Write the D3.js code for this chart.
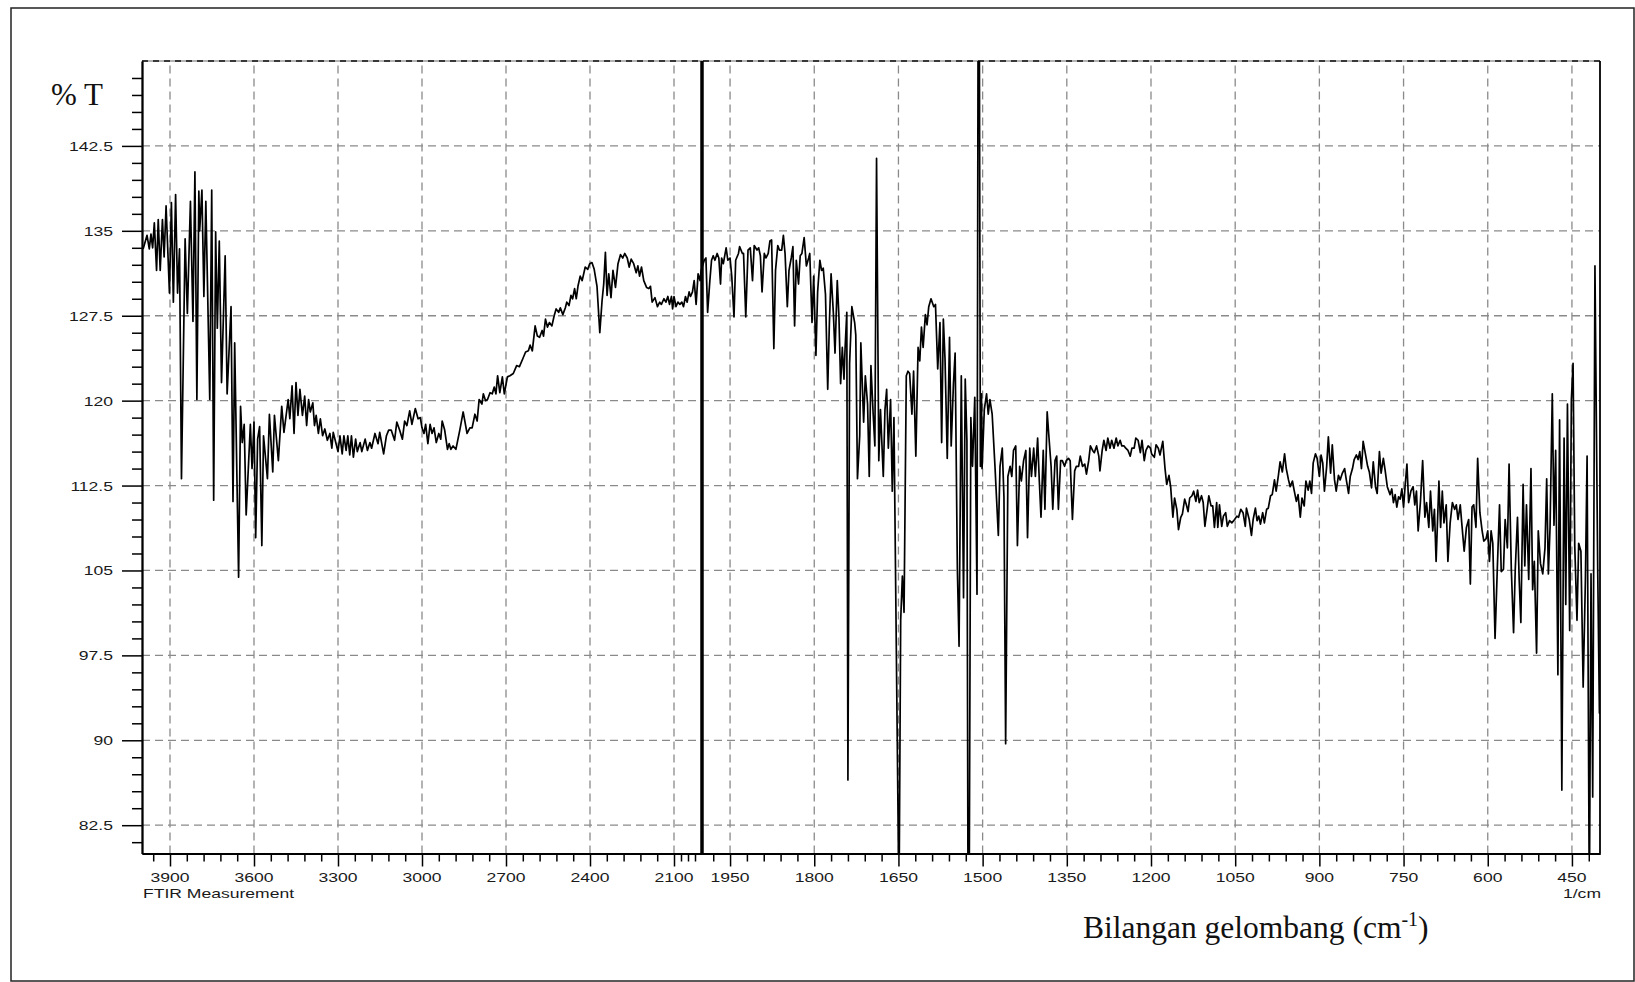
<!DOCTYPE html>
<html>
<head>
<meta charset="utf-8">
<script src="https://cdn.jsdelivr.net/npm/d3@7"></script>
<style>
  html, body { margin: 0; padding: 0; background: #fff; }
  svg { display: block; }
</style>
</head>
<body>
<div id="chart"></div>
<script>
// FTIR spectrum: [wavenumber (1/cm), %T]
const spectrum = [
  [3996,133.4],[3982,134.6],[3974,133.4],[3968,134.7],[3962,133.5],[3956,135.7],[3948,131.5],[3942,136.0],[3935,131.5],[3927,136.0],
  [3921,132.7],[3914,137.2],[3902,129.5],[3895,137.5],[3888,128.7],[3880,138.2],[3873,129.5],[3866,133.4],[3859,113.1],[3846,134.3],
  [3838,127.7],[3827,137.6],[3818,127.0],[3811,140.2],[3804,120.1],[3797,138.5],[3794,135.0],[3786,138.6],[3779,129.2],[3772,137.6],
  [3758,120.1],[3751,138.6],[3744,111.2],[3737,134.9],[3731,126.4],[3724,134.1],[3716,121.6],[3703,132.8],[3696,120.6],[3682,128.3],
  [3675,111.1],[3669,125.1],[3655,104.4],[3648,119.5],[3642,116.3],[3635,117.9],[3628,109.9],[3613,117.9],[3607,114.0],[3600,118.1],
  [3594,107.9],[3587,116.6],[3580,117.7],[3572,107.2],[3566,116.9],[3552,113.1],[3545,118.8],[3533,113.7],[3527,118.7],[3513,114.7],
  [3501,119.5],[3493,117.2],[3478,120.1],[3472,118.4],[3464,121.3],[3457,117.1],[3450,121.6],[3443,118.7],[3436,121.0],[3427,118.7],
  [3419,120.4],[3412,117.8],[3405,120.1],[3399,119.0],[3390,119.8],[3384,117.8],[3378,118.7],[3370,117.1],[3363,118.4],[3355,116.9],
  [3347,117.5],[3338,116.5],[3329,117.1],[3322,115.8],[3317,117.2],[3308,116.3],[3300,115.5],[3293,116.9],[3285,115.3],[3279,116.9],
  [3271,115.6],[3265,116.9],[3258,115.2],[3252,116.9],[3245,115.0],[3237,116.6],[3231,115.5],[3221,116.3],[3215,115.5],[3203,116.6],
  [3195,115.6],[3186,116.3],[3180,115.8],[3168,117.1],[3157,116.2],[3151,117.2],[3137,115.3],[3127,116.9],[3119,117.4],
  [3110,117.4],[3098,116.5],[3090,118.1],[3080,117.4],[3070,116.6],[3062,118.2],[3054,117.8],[3044,119.1],[3036,117.9],[3024,119.3],
  [3014,118.4],[3006,118.5],[3000,117.6],[2993,117.1],[2987,117.9],[2979,116.2],[2971,117.9],[2964,117.1],[2957,117.6],[2949,116.3],
  [2940,117.1],[2933,116.6],[2928,118.2],[2919,117.4],[2909,115.7],[2903,116.2],[2897,115.7],[2889,116.0],[2879,115.7],[2865,117.4],
  [2853,119.0],[2839,117.1],[2829,117.6],[2821,117.6],[2811,118.8],[2803,118.2],[2796,120.1],[2786,119.7],[2781,120.6],[2773,120.0],
  [2766,120.1],[2757,120.7],[2749,120.6],[2742,121.2],[2736,120.6],[2730,122.2],[2722,120.7],[2713,122.1],[2706,120.6],[2695,122.1],
  [2686,122.2],[2674,122.4],[2662,123.1],[2652,123.0],[2640,123.7],[2630,124.3],[2620,124.4],[2614,124.9],[2606,124.4],[2596,126.6],
  [2588,125.7],[2580,125.6],[2571,126.2],[2566,125.7],[2559,127.2],[2552,126.5],[2545,126.9],[2536,126.6],[2528,127.5],[2521,128.1],
  [2512,127.8],[2506,128.2],[2497,127.6],[2488,128.2],[2483,128.7],[2475,128.4],[2468,129.3],[2462,129.0],[2455,129.9],[2449,129.0],
  [2443,130.1],[2435,131.0],[2428,130.6],[2417,131.8],[2408,131.6],[2401,132.1],[2393,132.2],[2385,131.6],[2375,130.1],[2365,126.0],
  [2357,128.8],[2351,130.3],[2345,133.1],[2339,129.3],[2333,131.2],[2325,129.1],[2318,131.5],[2309,130.0],[2300,132.1],[2291,132.9],
  [2283,132.6],[2276,133.0],[2267,132.6],[2260,131.8],[2253,132.5],[2244,132.1],[2235,131.3],[2229,131.9],[2223,131.0],[2216,131.8],
  [2208,130.6],[2198,130.0],[2190,129.9],[2184,130.1],
  [2178,128.7],[2168,129.1],[2159,128.3],[2151,128.7],[2145,128.5],[2136,129.0],[2129,128.7],[2122,129.2],[2116,128.5],[2109,129.2],
  [2105,128.1],[2100,129.2],[2093,128.3],[2086,128.7],[2079,128.5],[2072,128.7],[2066,128.3],[2059,129.2],[2053,128.7],[2046,129.6],
  [2041,129.2],[2034,129.6],[2028,130.6],[2021,128.5],[2014,131.2],[2007,130.6],[2003,131.5],[1996,132.4],[1993,132.6],[1990,127.8],
  [1986,130.6],[1983,132.4],[1980,132.8],[1977,132.4],[1973,133.0],[1970,132.6],[1967,130.3],[1965,132.6],[1962,132.1],[1957,133.5],
  [1954,132.4],[1950,132.6],[1947,131.0],[1943,127.4],[1940,132.4],[1935,133.0],[1933,133.6],[1928,133.0],[1926,133.0],[1922,127.4],
  [1918,133.3],[1914,133.5],[1910,130.6],[1907,133.7],[1902,133.3],[1899,133.5],[1896,132.8],[1893,129.6],[1889,133.0],[1886,132.6],
  [1882,133.0],[1879,134.1],[1876,134.2],[1872,124.6],[1869,131.5],[1865,133.7],[1862,133.3],[1858,133.3],[1855,134.6],[1852,133.0],
  [1848,128.3],[1845,131.5],[1841,132.6],[1838,133.6],[1835,126.6],[1832,132.4],[1828,130.3],[1825,132.8],[1822,133.0],[1818,134.4],
  [1814,131.9],[1810,132.6],[1808,133.0],[1804,126.9],[1801,131.0],[1797,124.0],[1794,129.6],[1790,132.4],[1787,131.5],[1784,131.7],
  [1780,129.4],[1776,121.0],[1773,126.9],[1770,131.2],[1766,127.8],[1763,124.2],[1759,130.6],[1756,127.4],[1753,121.5],[1750,124.7],
  [1747,121.9],[1745,124.7],[1742,127.8],[1740,86.5],[1737,123.3],[1733,128.3],[1728,126.9],[1726,125.8],[1723,113.1],[1719,116.9],
  [1717,125.1],[1712,118.1],[1709,122.2],[1705,119.7],[1702,113.3],[1699,123.1],[1695,118.8],[1692,116.0],[1689,141.4],[1685,114.7],
  [1682,119.2],[1677,113.3],[1674,119.2],[1671,121.0],[1668,115.8],[1664,120.1],[1661,112.0],[1658,118.5],
  [1649,75],[1646,100.6],[1643,104.5],[1640,101.3],[1636,122.2],[1633,122.6],[1630,122.4],[1626,118.8],[1623,122.6],[1619,115.1],
  [1615,124.7],[1612,123.5],[1609,126.5],[1606,124.7],[1602,127.6],[1599,126.7],[1596,128.3],[1592,129.0],[1587,128.3],[1584,128.5],
  [1580,122.8],[1576,126.9],[1573,116.3],[1570,127.2],[1567,123.7],[1563,114.9],[1559,125.6],[1556,116.0],[1552,121.5],[1549,124.2],
  [1545,105.1],[1542,98.3],[1538,122.2],[1534,102.6],[1531,121.9],[1528,116.5],[1526,75],[1524,75],[1521,118.5],[1518,114.2],
  [1514,120.3],[1510,102.9],[1508,156],[1506,156],[1504,114.2],[1502,120.6],[1501,114.0],[1497,119.2],[1493,120.6],[1490,118.8],
  [1487,120.1],[1483,118.8],[1478,114.2],[1472,108.1],[1469,114.2],[1465,115.8],[1462,111.5],[1459,89.7],[1455,113.3],[1451,114.2],
  [1448,113.3],[1445,115.6],[1441,116.0],[1438,107.2],[1434,114.2],[1431,112.9],[1427,114.7],[1423,115.6],[1420,107.9],[1416,115.8],
  [1413,113.3],[1409,115.8],[1406,113.3],[1402,116.7],[1399,112.9],[1396,109.7],[1392,115.6],[1389,110.4],[1385,119.0],[1382,116.9],
  [1378,114.2],[1375,110.4],[1371,114.7],[1368,115.1],[1365,110.4],[1361,114.7],[1358,114.7],[1354,114.2],[1351,114.7],[1347,114.9],
  [1344,114.7],[1340,109.5],[1336,113.8],[1333,114.2],[1329,114.2],[1326,115.1],[1322,114.2],[1318,114.4],[1315,113.5],[1311,114.7],
  [1308,116.0],[1304,115.6],[1301,115.4],[1297,116.0],[1293,115.1],[1291,113.8],[1287,115.6],[1284,116.5],[1280,115.6],[1277,116.7],
  [1273,115.8],[1270,116.5],[1266,115.8],[1262,116.7],[1259,116.0],[1255,116.5],[1252,116.0],[1248,116.0],[1245,115.8],[1241,115.6],
  [1237,115.1],[1234,115.8],[1230,115.8],[1227,116.7],[1223,116.5],[1219,115.4],[1216,116.5],[1212,114.7],[1209,115.6],[1205,116.0],
  [1201,115.8],
  [1199,115.3],[1194,115.0],[1191,116.1],[1187,115.8],[1184,115.2],[1179,116.4],[1175,114.0],[1172,112.6],[1168,113.4],[1165,112.4],
  [1161,109.7],[1158,111.4],[1154,110.4],[1151,108.6],[1147,109.7],[1144,110.0],[1140,111.3],[1137,110.8],[1134,110.2],[1131,111.4],
  [1127,111.6],[1124,112.0],[1120,111.1],[1117,112.1],[1114,111.0],[1110,111.6],[1107,111.0],[1104,108.9],[1100,110.4],[1097,111.6],
  [1093,110.7],[1090,110.7],[1087,108.8],[1083,111.0],[1081,108.8],[1078,110.8],[1074,108.9],[1071,109.8],[1067,110.1],[1064,108.9],
  [1060,109.4],[1056,109.2],[1051,109.5],[1047,109.8],[1044,109.7],[1040,110.4],[1036,110.1],[1032,108.9],[1030,110.5],[1025,109.5],
  [1021,108.1],[1018,109.5],[1014,110.5],[1011,109.4],[1008,109.8],[1005,109.1],[1001,110.1],[998,109.2],[994,110.4],[991,110.5],
  [987,111.6],[984,111.7],[980,113.0],[977,112.0],[973,113.4],[970,114.6],[966,113.7],[962,115.3],[959,114.0],[955,113.0],
  [952,112.4],[948,112.9],[945,112.1],[941,111.1],[938,111.7],[934,109.7],[931,111.4],[927,110.7],[924,112.9],[920,112.1],
  [917,112.9],[914,111.8],[911,114.5],[907,115.3],[904,114.9],[900,113.3],[897,115.2],[894,114.5],[891,112.0],[887,114.2],
  [884,116.8],[880,113.6],[877,116.1],[873,113.0],[870,112.0],[866,113.4],[863,113.0],[859,113.6],[855,114.0],[852,113.0],
  [848,111.8],[845,113.3],[841,114.0],[838,114.8],[834,115.2],[831,114.8],[828,115.5],[825,114.0],[822,116.4],[818,115.3],
  [814,114.2],[811,113.7],[807,112.3],[804,114.6],[800,112.4],[797,111.8],[793,115.5],[790,113.6],[786,114.9],[783,113.9],
  [779,112.4],
  [774,111.7],[771,112.2],[768,111.0],[765,111.7],[762,110.6],[759,111.5],[756,111.3],[753,112.2],[750,110.6],[747,112.6],
  [744,114.4],[741,111.0],[737,112.0],[733,112.4],[730,110.8],[727,112.0],[724,108.5],[720,111.0],[716,114.7],[712,109.7],
  [709,111.0],[705,108.8],[702,112.0],[698,108.5],[695,110.4],[692,105.8],[687,112.9],[684,108.8],[681,112.0],[678,109.2],
  [674,110.8],[671,105.8],[667,109.2],[663,111.0],[659,110.4],[656,110.8],[653,109.5],[649,110.8],[646,109.0],[642,106.7],
  [638,108.8],[634,109.5],[631,103.8],[628,110.6],[625,110.8],[621,108.8],[618,114.9],[614,110.1],[610,108.5],[607,107.6],
  [603,107.8],[600,108.5],[597,105.8],[594,108.5],[591,107.4],[587,99.0],[583,105.1],[579,110.8],[576,104.9],[572,105.1],
  [569,109.5],[565,107.0],[562,114.4],[558,105.1],[554,99.5],[551,105.1],[547,109.7],[544,104.2],[541,100.4],[537,112.6],
  [534,105.4],[531,110.8],[527,104.2],[523,114.0],[520,103.3],[517,105.8],[513,97.7],[510,108.5],[506,105.6],[502,104.7],
  [498,107.0],[495,113.1],[492,104.7],[489,108.8],[485,120.6],[482,109.0],[479,115.6],[475,95.8],[472,118.3],[468,85.6],
  [464,116.7],[461,102.0],[458,119.7],[454,99.7],[451,120.1],[448,123.3],[445,107.2],[441,100.6],[438,107.4],[434,106.7],
  [430,94.7],[426,104.2],[423,115.1],[419,75],[416,104.7],[413,85.0],[409,131.9],[404,104.7],[401,92.4],[400,92.4]
];

const xTickLabels = [3900, 3600, 3300, 3000, 2700, 2400, 2100, 1950, 1800, 1650, 1500, 1350, 1200, 1050, 900, 750, 600, 450];
const xMinorTicks = [3960, 3840, 3780, 3720, 3660, 3540, 3480, 3420, 3360, 3240, 3180, 3120, 3060, 2940, 2880, 2820, 2760,
  2640, 2580, 2520, 2460, 2340, 2280, 2220, 2160, 2075, 2050, 2025, 1980, 1920, 1890, 1860, 1830, 1770, 1740, 1710, 1680,
  1620, 1590, 1560, 1530, 1470, 1440, 1410, 1380, 1320, 1290, 1260, 1230, 1170, 1140, 1110, 1080, 1020, 990, 960, 930,
  870, 840, 810, 780, 720, 690, 660, 630, 570, 540, 510, 480, 420];
const yTickLabels = [82.5, 90, 97.5, 105, 112.5, 120, 127.5, 135, 142.5];
const yMinorTicks = [81, 84, 85.5, 87, 88.5, 91.5, 93, 94.5, 96, 99, 100.5, 102, 103.5, 106.5, 108, 109.5, 111,
  114, 115.5, 117, 118.5, 121.5, 123, 124.5, 126, 129, 130.5, 132, 133.5, 136.5, 138, 139.5, 141, 144, 145.5, 147, 148.5];

const W = 1635, H = 982;
const plot = { left: 142, right: 1600, top: 61, bottom: 853.5 };

const svg = d3.select("#chart").append("svg")
    .attr("width", W)
    .attr("height", H);

// outer frame
svg.append("rect")
    .attr("x", 11).attr("y", 8)
    .attr("width", 1623).attr("height", 973)
    .attr("fill", "none")
    .attr("stroke", "#222")
    .attr("stroke-width", 1.5);

// x scale: 1/cm, expanded 2x below 2000
const x = d3.scaleLinear()
    .domain([4000, 2000, 400])
    .range([plot.left, 702, plot.right]);

const y = d3.scaleLinear()
    .domain([80, 150])
    .range([plot.bottom, plot.top]);

// grid
const grid = svg.append("g")
    .attr("stroke", "#8a8a8a")
    .attr("stroke-width", 1.3)
    .attr("stroke-dasharray", "8,5");

grid.selectAll(".vgrid")
    .data(xTickLabels)
    .join("line")
    .attr("x1", d => x(d)).attr("x2", d => x(d))
    .attr("y1", plot.bottom).attr("y2", plot.top);

grid.selectAll(".hgrid")
    .data(yTickLabels)
    .join("line")
    .attr("x1", plot.left).attr("x2", plot.right)
    .attr("y1", d => y(d)).attr("y2", d => y(d));

// top border: grey with dark dashes
svg.append("line")
    .attr("x1", plot.left).attr("x2", plot.right)
    .attr("y1", plot.top).attr("y2", plot.top)
    .attr("stroke", "#9a9a9a").attr("stroke-width", 1.4);
svg.append("line")
    .attr("x1", plot.left).attr("x2", plot.right)
    .attr("y1", plot.top).attr("y2", plot.top)
    .attr("stroke", "#111").attr("stroke-width", 1.4)
    .attr("stroke-dasharray", "6,5");

// right border
svg.append("line")
    .attr("x1", plot.right).attr("x2", plot.right)
    .attr("y1", plot.top).attr("y2", plot.bottom)
    .attr("stroke", "#000").attr("stroke-width", 1.8);

// axes: major + minor ticks
const axisStyle = g => {
    g.select(".domain").attr("stroke", "#000").attr("stroke-width", 1.8);
    g.selectAll(".tick line").attr("stroke", "#000").attr("stroke-width", 1.5);
};

svg.append("g")
    .attr("transform", `translate(0,${plot.bottom})`)
    .call(d3.axisBottom(x).tickValues(xMinorTicks).tickSize(8).tickSizeOuter(0).tickFormat(""))
    .call(axisStyle);
svg.append("g")
    .attr("transform", `translate(0,${plot.bottom})`)
    .call(d3.axisBottom(x).tickValues(xTickLabels).tickSize(13).tickSizeOuter(0).tickFormat(""))
    .call(axisStyle);

svg.append("g")
    .attr("transform", `translate(${plot.left},0)`)
    .call(d3.axisLeft(y).tickValues(yMinorTicks).tickSize(10).tickSizeOuter(0).tickFormat(""))
    .call(axisStyle);
svg.append("g")
    .attr("transform", `translate(${plot.left},0)`)
    .call(d3.axisLeft(y).tickValues(yTickLabels).tickSize(20).tickSizeOuter(0).tickFormat(""))
    .call(axisStyle);

// tick labels (the instrument font is stretched horizontally)
const sans = "'Liberation Sans', Arial, sans-serif";
svg.selectAll(".xlab")
    .data(xTickLabels)
    .join("text")
    .attr("transform", d => `translate(${x(d)},882) scale(1.35,1)`)
    .attr("text-anchor", "middle")
    .attr("font-family", sans)
    .attr("font-size", 13)
    .attr("fill", "#1a1a1a")
    .text(d => d);

svg.selectAll(".ylab")
    .data(yTickLabels)
    .join("text")
    .attr("transform", d => `translate(113,${y(d) + 5}) scale(1.35,1)`)
    .attr("text-anchor", "end")
    .attr("font-family", sans)
    .attr("font-size", 13)
    .attr("fill", "#1a1a1a")
    .text(d => d);

svg.append("text")
    .attr("transform", "translate(143,898) scale(1.35,1)")
    .attr("font-family", sans)
    .attr("font-size", 13)
    .attr("fill", "#1a1a1a")
    .text("FTIR Measurement");

svg.append("text")
    .attr("transform", "translate(1601,898) scale(1.35,1)")
    .attr("text-anchor", "end")
    .attr("font-family", sans)
    .attr("font-size", 13)
    .attr("fill", "#1a1a1a")
    .text("1/cm");

// spectrum, clipped to the plot box
svg.append("clipPath")
    .attr("id", "plot-clip")
    .append("rect")
    .attr("x", plot.left).attr("y", plot.top)
    .attr("width", plot.right - plot.left)
    .attr("height", plot.bottom - plot.top);

const line = d3.line()
    .x(d => x(d[0]))
    .y(d => y(d[1]));

svg.append("path")
    .datum(spectrum)
    .attr("clip-path", "url(#plot-clip)")
    .attr("fill", "none")
    .attr("stroke", "#000")
    .attr("stroke-width", 1.7)
    .attr("stroke-linejoin", "round")
    .attr("d", line);

// scale-change marker at 2000
svg.append("line")
    .attr("x1", x(2000)).attr("x2", x(2000))
    .attr("y1", plot.top).attr("y2", plot.bottom)
    .attr("stroke", "#000").attr("stroke-width", 3.5);

// axis titles added on the page
const serif = "'Liberation Serif', 'Times New Roman', serif";
svg.append("text")
    .attr("x", 51).attr("y", 105)
    .attr("font-family", serif)
    .attr("font-size", 31)
    .attr("fill", "#111")
    .text("% T");

const xTitle = svg.append("text")
    .attr("x", 1083).attr("y", 938)
    .attr("font-family", serif)
    .attr("font-size", 31.5)
    .attr("fill", "#111");
xTitle.append("tspan").text("Bilangan gelombang (cm");
xTitle.append("tspan").attr("font-size", 20).attr("dy", -12).text("-1");
xTitle.append("tspan").attr("dy", 12).text(")");
</script>
</body>
</html>
